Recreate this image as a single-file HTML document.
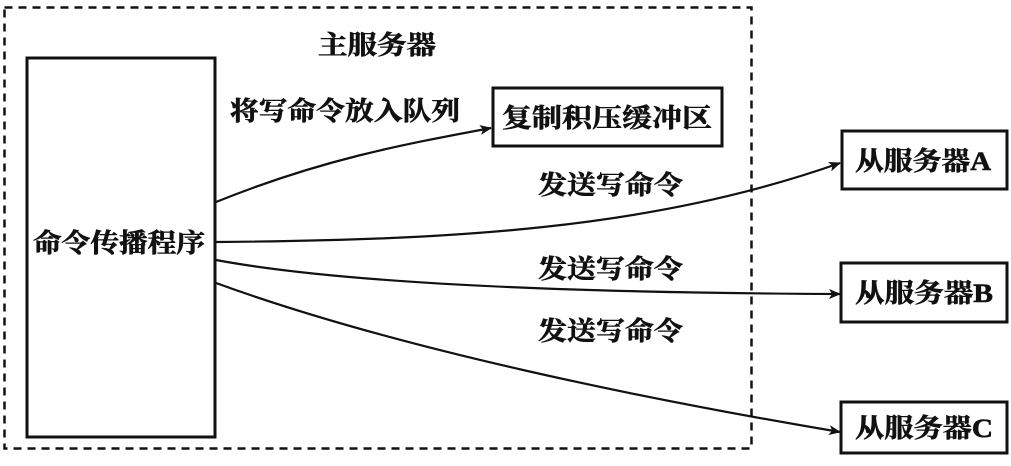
<!DOCTYPE html>
<html><head><meta charset="utf-8"><style>
html,body{margin:0;padding:0;background:#fff;}
svg{display:block;}
text{font-family:"Liberation Serif","Noto Serif CJK SC","Noto Sans CJK SC",serif;font-weight:bold;fill:#111;stroke:#111;stroke-width:0.6;}
</style></head><body>
<svg width="1011" height="466" viewBox="0 0 1011 466" xmlns="http://www.w3.org/2000/svg">
<defs><marker id="ah" markerWidth="12" markerHeight="10" refX="11" refY="5" orient="auto" markerUnits="userSpaceOnUse"><path d="M0,0 L12,5 L0,10 L3,5 Z" fill="#111"/></marker></defs>
<rect x="4.5" y="7.5" width="747" height="441" fill="none" stroke="#111" stroke-width="2.5" stroke-dasharray="8,6"/>
<text x="318" y="54" font-size="26" textLength="118" lengthAdjust="spacingAndGlyphs">主服务器</text>
<rect x="27" y="58" width="188" height="379" fill="none" stroke="#111" stroke-width="3"/>
<text x="33" y="252" font-size="26" textLength="172" lengthAdjust="spacingAndGlyphs">命令传播程序</text>
<rect x="493" y="88" width="229" height="58" fill="none" stroke="#111" stroke-width="3"/>
<text x="502" y="127" font-size="26" textLength="210" lengthAdjust="spacingAndGlyphs">复制积压缓冲区</text>
<text x="230" y="120" font-size="26" textLength="230" lengthAdjust="spacingAndGlyphs">将写命令放入队列</text>
<rect x="842" y="131" width="165" height="58" fill="none" stroke="#111" stroke-width="3"/>
<text x="855" y="170" font-size="26" textLength="136" lengthAdjust="spacingAndGlyphs">从服务器A</text>
<rect x="841" y="263" width="166" height="59" fill="none" stroke="#111" stroke-width="3"/>
<text x="855" y="302" font-size="26" textLength="138" lengthAdjust="spacingAndGlyphs">从服务器B</text>
<rect x="841" y="402" width="166" height="51" fill="none" stroke="#111" stroke-width="3"/>
<text x="855" y="437" font-size="26" textLength="138" lengthAdjust="spacingAndGlyphs">从服务器C</text>
<text x="538" y="194" font-size="26" textLength="145" lengthAdjust="spacingAndGlyphs">发送写命令</text>
<text x="538" y="278" font-size="26" textLength="145" lengthAdjust="spacingAndGlyphs">发送写命令</text>
<text x="538" y="340" font-size="26" textLength="145" lengthAdjust="spacingAndGlyphs">发送写命令</text>
<g fill="none" stroke="#111" stroke-width="2.2" marker-end="url(#ah)">
<path d="M216,202 C320,160 400,145 491,128"/>
<path d="M216,242 C450,240 650,230 840,163"/>
<path d="M216,260 C350,285 600,293 840,294"/>
<path d="M216,283 C400,350 650,400 840,432"/>
</g>
</svg>
</body></html>
